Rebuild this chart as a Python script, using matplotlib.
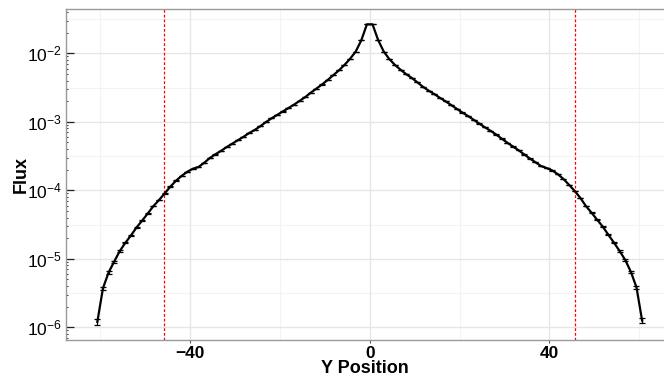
import numpy as np
import matplotlib
matplotlib.use("Agg")
import matplotlib.pyplot as plt
from matplotlib.ticker import LogLocator, FixedLocator, LogFormatterSciNotation, NullFormatter

plt.rcParams['font.family'] = ['Liberation Sans', 'DejaVu Sans']
plt.rcParams['mathtext.fontset'] = 'custom'
plt.rcParams['mathtext.rm'] = 'Liberation Sans'
plt.rcParams['mathtext.it'] = 'Liberation Sans:italic'
plt.rcParams['mathtext.bf'] = 'Liberation Sans:bold'
plt.rcParams['mathtext.default'] = 'regular'

# ---- data -------------------------------------------------------------
bin_width = 1.25
n_bins = 98
# log10(flux), left half (y = -60.625 ... -0.625)
log_flux_left = [
    -5.92, -5.43, -5.20, -5.04, -4.886, -4.765, -4.657, -4.54, -4.44, -4.336,
    -4.229, -4.14, -4.044, -3.947, -3.86, -3.79, -3.73, -3.685, -3.66,
    -3.60, -3.53, -3.475, -3.425, -3.37, -3.32, -3.27, -3.22, -3.165, -3.12,
    -3.065, -3.005, -2.95, -2.90, -2.85, -2.80, -2.75, -2.695, -2.64, -2.575,
    -2.515, -2.455, -2.39, -2.32, -2.25, -2.17, -2.08, -1.975, -1.81, -1.577,
]
# right half (y = 0.625 ... 60.625)
log_flux_right = [
    -1.577, -1.806, -1.975, -2.085, -2.17, -2.24, -2.305, -2.36, -2.425, -2.49,
    -2.545, -2.595, -2.65, -2.70, -2.755, -2.81, -2.865, -2.915, -2.97, -3.025,
    -3.08, -3.13, -3.185, -3.245, -3.305, -3.36, -3.415, -3.475, -3.535, -3.59,
    -3.645, -3.675, -3.71, -3.765, -3.835, -3.92, -4.01, -4.11, -4.23, -4.327,
    -4.43, -4.53, -4.65, -4.765, -4.886, -5.017, -5.19, -5.416, -5.90,
]
rel_err_at_1e6 = 0.10          # relative statistical error at flux = 1e-6
cut_positions = [-45.7, 45.7]  # red dashed boundaries
x_ticks = [-40, 0, 40]
x_tick_labels = ['\u221240', '0', '40']
x_minor = [-60, -20, 20, 60]

# ---- derived --------------------------------------------------------
y_pos = (np.arange(n_bins) - (n_bins - 1) / 2) * bin_width
flux = 10 ** np.array(log_flux_left + log_flux_right)
err = flux * rel_err_at_1e6 * np.sqrt(1e-6 / flux)

W, H = 664, 379
fig = plt.figure(figsize=(W / 100, H / 100), dpi=100)
ax = fig.add_axes([66 / W, 1 - 340 / H, (W - 66) / W, (340 - 9) / H])

ax.set_yscale('log')
ax.set_xlim(-67.6, 65.5)
ax.set_ylim(10 ** -6.185, 10 ** -1.353)

# grid
ax.set_xticks(x_ticks)
ax.xaxis.set_minor_locator(FixedLocator(x_minor))
ax.yaxis.set_major_locator(LogLocator(base=10, numticks=20))
ax.yaxis.set_minor_locator(LogLocator(base=10, subs=np.arange(2, 10), numticks=20))
ax.yaxis.set_major_formatter(LogFormatterSciNotation())
ax.yaxis.set_minor_formatter(NullFormatter())
ax.grid(which='major', color='#e6e6e6', linewidth=1.0, zorder=0)
ax.grid(which='minor', axis='x', color='#f3f3f3', linewidth=0.8, zorder=0)
for k in range(-7, 0):
    ax.axhline(10 ** (k + 0.5), color='#f3f3f3', linewidth=0.8, zorder=0)
ax.set_axisbelow(True)

for c in cut_positions:
    ax.axvline(c, color='#ff0000', linestyle=(0, (2.2, 1.6)), linewidth=0.9, zorder=2)

ax.errorbar(y_pos, flux, yerr=err, color='black', linewidth=1.6,
            elinewidth=0.9, capsize=2.2, capthick=0.9, zorder=3)

for s in ax.spines.values():
    s.set_color('#9a9a9a')
    s.set_linewidth(1.0)
ax.spines['right'].set_visible(False)

ax.tick_params(axis='x', which='major', direction='out', length=2.5, width=0.8,
               color='#555555', pad=2, labelsize=12.5)
ax.tick_params(axis='x', which='minor', length=0)
ax.tick_params(axis='y', which='major', direction='in', length=5.5, width=0.9,
               color='#222222', pad=3, labelsize=12.5)
ax.tick_params(axis='y', which='minor', direction='in', length=1.6, width=0.7,
               color='#333333')
ax.set_xticklabels(x_tick_labels, fontweight='bold')

ax.set_xlabel('Y Position', fontsize=13, fontweight='bold', labelpad=-1)
ax.set_ylabel('Flux', fontsize=13, fontweight='bold', labelpad=-2)

fig.savefig('out.png', dpi=100)
